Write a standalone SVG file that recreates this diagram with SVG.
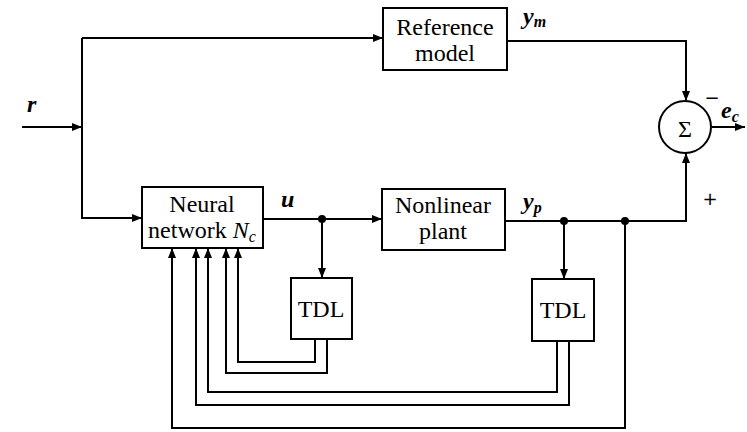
<svg xmlns="http://www.w3.org/2000/svg" width="747" height="432" viewBox="0 0 747 432">
<style>
.box{fill:#fff;stroke:#000;stroke-width:2}
.ln{fill:none;stroke:#000;stroke-width:2}
.t{font-family:"Liberation Serif","DejaVu Serif",serif;font-size:24px;fill:#000;text-anchor:middle}
.m{font-family:"Liberation Serif","DejaVu Serif",serif;font-size:24px;font-style:italic;font-weight:bold;fill:#000}
.s{font-size:16px}
.sg{font-family:"DejaVu Sans","Liberation Sans",sans-serif;font-size:18px;fill:#000;text-anchor:middle}
</style>
<defs>
<marker id="ah" markerUnits="userSpaceOnUse" markerWidth="11" markerHeight="9" refX="10" refY="4" orient="auto">
<path d="M0,0 L10,4 L0,8 z" fill="#000"/>
</marker>
</defs>
<g id="connectors">
<path class="ln" d="M22,127 H82" marker-end="url(#ah)"/>
<path class="ln" d="M82,38 V218 H142" marker-end="url(#ah)"/>
<path class="ln" d="M82,38 H383" marker-end="url(#ah)"/>
<path class="ln" d="M263,219 H382" marker-end="url(#ah)"/>
<path class="ln" d="M322,219 V278" marker-end="url(#ah)"/>
<path class="ln" d="M507,41 H686 V101" marker-end="url(#ah)"/>
<path class="ln" d="M505,221 H686 V153" marker-end="url(#ah)"/>
<path class="ln" d="M564,221 V279" marker-end="url(#ah)"/>
<path class="ln" d="M315,339 V362 H238 V248" marker-end="url(#ah)"/>
<path class="ln" d="M327,339 V373 H226 V248" marker-end="url(#ah)"/>
<path class="ln" d="M557,341 V392 H208 V248" marker-end="url(#ah)"/>
<path class="ln" d="M569,341 V405 H196 V248" marker-end="url(#ah)"/>
<path class="ln" d="M625,221 V428 H172 V248" marker-end="url(#ah)"/>
<path class="ln" d="M712,127 H745" marker-end="url(#ah)"/>
<circle cx="322" cy="219" r="4" fill="#000"/>
<circle cx="564" cy="221" r="4" fill="#000"/>
<circle cx="625" cy="221" r="4" fill="#000"/>
</g>
<g id="reference-model">
<rect class="box" x="383" y="8" width="124" height="62"/>
<text class="t" x="445" y="35">Reference</text>
<text class="t" x="445" y="61">model</text>
</g>
<g id="neural-network">
<rect class="box" x="142" y="187" width="121" height="61"/>
<text class="t" x="202" y="212">Neural</text>
<text class="t" x="202" y="238">network <tspan font-style="italic">N</tspan><tspan font-style="italic" font-size="16" dy="4">c</tspan></text>
</g>
<g id="nonlinear-plant">
<rect class="box" x="382" y="189" width="123" height="61"/>
<text class="t" x="443" y="213">Nonlinear</text>
<text class="t" x="443" y="239">plant</text>
</g>
<g id="tdl1">
<rect class="box" x="291" y="278" width="61" height="61"/>
<text class="t" x="321" y="317">TDL</text>
</g>
<g id="tdl2">
<rect class="box" x="532" y="279" width="62" height="62"/>
<text class="t" x="563" y="318">TDL</text>
</g>
<g id="sum">
<circle cx="685" cy="127" r="26" fill="#fff" stroke="#000" stroke-width="2"/>
<text class="t" x="685" y="137" font-size="28">Σ</text>
</g>
<g id="labels">
<text class="m" x="27" y="112">r</text>
<text class="m" x="281" y="207">u</text>
<text class="m" x="523" y="24">y<tspan class="s" dy="3">m</tspan></text>
<text class="m" x="523" y="209">y<tspan class="s" dy="4">p</tspan></text>
<text class="m" x="721" y="118">e<tspan class="s" dy="4">c</tspan></text>
<text class="sg" x="712" y="104" font-size="15">−</text>
<text class="sg" x="710" y="205">+</text>
</g>
</svg>
